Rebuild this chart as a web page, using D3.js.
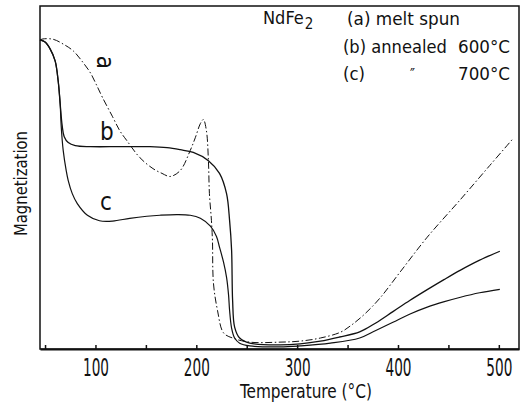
<!DOCTYPE html>
<html>
<head>
<meta charset="utf-8">
<script src="https://cdn.jsdelivr.net/npm/d3@7"></script>
<style>
  html, body { margin: 0; padding: 0; background: #fff; }
  svg { display: block; }
  text { font-family: "DejaVu Sans Condensed", "DejaVu Sans", sans-serif; fill: #111; }
</style>
</head>
<body>
<svg id="chart" width="523" height="409"></svg>
<script>
// ---- data (temperature in °C, magnetization in arbitrary units) ----
const tempA = [45, 48, 58, 68, 78, 88, 95, 101, 107, 117, 124, 131, 144, 157, 166, 174, 184, 194, 199, 204, 207, 210, 212, 213, 215, 216, 217, 221, 227, 236, 253, 283, 303, 323, 343, 354, 367, 382, 402, 429, 462, 491, 514];
const magA  = [90.1, 90.4, 90.3, 88.9, 86.9, 83.4, 80.5, 77.0, 73.3, 67.7, 63.7, 60.8, 55.8, 52.6, 51.2, 50.3, 52.0, 57.9, 61.6, 65.7, 66.9, 63.7, 54.9, 45.3, 37.5, 31.7, 19.2, 11.3, 4.7, 3.2, 2.0, 2.0, 2.3, 3.2, 4.9, 7.0, 10.2, 14.8, 22.4, 32.6, 43.6, 53.5, 61.3];

const tempB = [45, 50, 55, 60, 63, 65, 67, 69, 73, 80, 95, 124, 154, 171, 184, 197, 212, 223, 230, 233, 235, 236, 238, 243, 253, 283, 303, 323, 342, 362, 378, 395, 412, 429, 446, 462, 481, 501];
const magB  = [90.1, 89.5, 87.5, 84.0, 78.2, 71.5, 65.1, 61.9, 60.2, 59.3, 59.0, 59.0, 59.0, 58.7, 58.1, 57.3, 54.9, 51.2, 45.3, 37.5, 28.8, 14.2, 6.4, 3.2, 1.7, 1.2, 1.5, 2.3, 3.5, 5.0, 7.6, 10.9, 14.2, 17.3, 20.3, 23.0, 25.9, 28.5];

const tempC = [45, 50, 55, 60, 63, 65, 66, 68, 71, 73, 77, 82, 92, 104, 117, 134, 151, 164, 181, 194, 204, 214, 220, 223, 227, 230, 232, 233, 235, 238, 243, 253, 283, 303, 333, 362, 378, 395, 412, 429, 446, 462, 481, 501];
const magC  = [90.1, 89.5, 87.5, 84.0, 78.2, 71.5, 65.1, 57.9, 52.0, 49.1, 45.3, 42.4, 39.0, 37.4, 37.3, 38.1, 38.7, 39.0, 39.2, 39.0, 38.1, 35.8, 32.8, 29.7, 25.3, 20.9, 15.7, 11.3, 6.1, 3.2, 1.7, 0.9, 0.6, 0.9, 1.7, 3.2, 5.4, 7.8, 10.2, 12.2, 13.8, 15.1, 16.4, 17.4];

const xTicks = [50, 100, 150, 200, 250, 300, 350, 400, 450, 500];
const xTickLabels = [100, 200, 300, 400, 500];
const legendLines = ["(a) melt spun", "(b) annealed", "(c)"];
const legendTemps = ["", "600°C", "700°C"];

// ---- layout ----
const svg = d3.select("#chart");
const mLeft = 40, mRight = 519, mTop = 6, mBottom = 349;
const x = d3.scaleLinear().domain([45, 520]).range([mLeft, mRight]);
const y = d3.scaleLinear().domain([0, 100]).range([mBottom, mTop]);

// squeeze a text horizontally to a given width (narrow typeface of the original)
function squeeze(sel, w, pre) {
  const L = sel.node().getComputedTextLength();
  const s = L > 0 ? w / L : 1;
  sel.attr("transform", `${pre || ""} scale(${s},1)`);
}

// frame
svg.append("rect")
  .attr("x", mLeft).attr("y", mTop)
  .attr("width", mRight - mLeft).attr("height", mBottom - mTop)
  .attr("fill", "none").attr("stroke", "#111").attr("stroke-width", 1.5);

// bottom axis with inward ticks
const xAxis = d3.axisBottom(x).tickValues(xTicks).tickSize(-4).tickSizeOuter(0)
  .tickFormat(d => xTickLabels.includes(d) ? d : "");
const gx = svg.append("g").attr("transform", `translate(0,${mBottom})`).call(xAxis);
gx.attr("font-size", 25).attr("font-family", '"DejaVu Sans Condensed", "DejaVu Sans", sans-serif');
gx.select(".domain").attr("stroke", "#111").attr("stroke-width", 2);
gx.selectAll(".tick line").attr("stroke", "#111").attr("stroke-width", 1.5);
gx.selectAll(".tick text")
  .attr("y", 0).attr("dy", 0)
  .attr("font-size", 25)
  .attr("fill", "#111")
  .each(function(d) {
    const t = d3.select(this);
    if (xTickLabels.includes(d)) squeeze(t, 26, "translate(0,27)");
  });

// axis titles
const xt = svg.append("text")
  .style("font-size", "19px")
  .text("Temperature (°C)");
squeeze(xt, 132, "translate(240,398)");

const yt = svg.append("text")
  .style("font-size", "18px")
  .text("Magnetization");
squeeze(yt, 105, "translate(27,236) rotate(-90)");

// curves
const line = d3.line().x(d => x(d[0])).y(d => y(d[1])).curve(d3.curveCatmullRom.alpha(0.5));
const series = [
  { t: tempA, m: magA, dash: "7,2.5,1.5,2.5", w: 1.0 },
  { t: tempB, m: magB, dash: null, w: 1.3 },
  { t: tempC, m: magC, dash: null, w: 1.2 }
];
series.forEach(s => {
  svg.append("path")
    .datum(s.t.map((t, i) => [t, s.m[i]]))
    .attr("d", line)
    .attr("fill", "none")
    .attr("stroke", "#111")
    .attr("stroke-width", s.w)
    .attr("stroke-dasharray", s.dash);
});

// curve labels
svg.append("text")
  .attr("transform", `translate(${x(102)},${y(85.5)}) rotate(90)`)
  .style("font-size", "24px").text("a");
svg.append("text")
  .attr("x", x(104.5)).attr("y", y(60.8))
  .style("font-size", "24px").text("b");
svg.append("text")
  .attr("x", x(104.5)).attr("y", y(40.4))
  .style("font-size", "24px").text("c");

// legend
const lg = svg.append("g");
const nd = lg.append("text").attr("x", 263).attr("y", 24).style("font-size", "18px");
nd.append("tspan").text("NdFe");
nd.append("tspan").attr("dx", 1).attr("dy", 5).style("font-size", "15px").text("2");

const legendX = [347, 343, 343];
const legendW = [113, 104, 22];
const legendY = [25, 53, 80];
legendLines.forEach((t, i) => {
  const tx = lg.append("text").style("font-size", "18px").text(t);
  squeeze(tx, legendW[i], `translate(${legendX[i]},${legendY[i]})`);
  if (legendTemps[i]) {
    const tt = lg.append("text").style("font-size", "18px").text(legendTemps[i]);
    squeeze(tt, 52, `translate(458,${legendY[i]})`);
  }
});
lg.append("text").attr("x", 410).attr("y", legendY[2])
  .style("font-size", "15px").text("\u2033");
</script>
</body>
</html>
